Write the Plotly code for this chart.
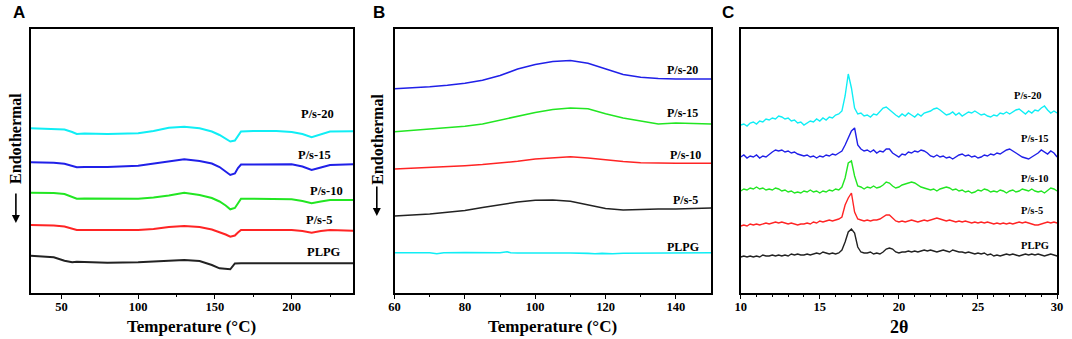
import numpy as np
import plotly.graph_objects as go

# ---------------- Panel A : DSC (Temperature, degC) ----------------
A_temp = [30, 45, 52, 57, 60, 65, 80, 100, 110, 120, 130, 140, 148, 153, 157, 160, 163, 165, 167, 175, 190, 200, 207, 213, 219, 225, 240]
A_ps20 = [164.7, 164.3, 163.5, 161, 159, 159.5, 159, 159.7, 162, 165.3, 166.3, 164.7, 161.5, 158, 154, 151.5, 152.5, 157, 161.5, 162, 162, 161, 159, 155.7, 158.5, 161.5, 161.7]
A_ps15 = [130.7, 130.3, 129.3, 127.5, 125.7, 126, 126, 127.3, 129.5, 132, 133.7, 132, 129.5, 126, 121.3, 118, 119.5, 125, 128.5, 128.7, 128.5, 128.7, 126.5, 123, 125.5, 128, 128.7]
A_ps10 = [100.3, 100, 99, 96.5, 94.3, 94.5, 94.3, 94.3, 95.5, 97.5, 100.3, 98, 95, 91.5, 87.5, 83.7, 85, 90, 94.3, 94.3, 94, 93.7, 92, 89.7, 91.5, 93, 93]
A_ps5 = [68, 67.5, 66.5, 64.5, 63, 63, 63, 63, 64, 66, 67, 66, 63.5, 61, 58.5, 56.3, 57.5, 60.5, 63, 63, 63, 63, 62, 60.3, 62, 63, 62.3]
A_plpg = [37.3, 35.7, 32.3, 30.7, 31.3, 31, 30.3, 30.7, 31.5, 32.5, 33, 32, 28, 24.7, 24.5, 23.7, 29.5, 29.7, 29.7, 29.7, 29.7, 29.7, 29.7, 29.7, 29.7, 29.7, 29.7]
A_label_x = [217, 215, 223, 218, 221]
A_label_y = [179, 138, 102, 73, 41]

# ---------------- Panel B : DSC (Temperature, degC) ----------------
B_temp = [60, 65, 70, 75, 80, 85, 90, 95, 100, 105, 110, 115, 120, 125, 130, 135, 140, 145, 150]
B_ps20 = [204.3, 205.2, 206.3, 207.8, 209.7, 212.8, 217.5, 224, 228.5, 231.5, 232.5, 229.8, 224, 218.5, 215.8, 214.5, 214, 214, 214]
B_ps15 = [161.3, 162.5, 163.8, 165, 166.7, 169, 173, 177, 180.5, 183.5, 185, 184.3, 179.2, 175, 172.3, 169, 170, 169.8, 169]
B_ps10 = [124, 124.7, 125.3, 126.3, 127.3, 128.5, 130, 131.7, 134, 135.5, 136.3, 135, 133, 131.5, 130.2, 129.7, 129.7, 129.7, 129.7]
B_ps5 = [77, 78, 79, 80.8, 82.5, 85.5, 88.5, 91, 92.7, 93, 91.7, 88, 84.5, 83, 83.7, 84, 84, 84.5, 85]
B_plpg_temp = [60, 65, 70, 72, 74, 80, 85, 90, 92, 93, 95, 100, 105, 110, 115, 117, 119, 122, 125, 130, 135, 140, 145, 150]
B_plpg = [40.2, 40, 40.3, 39.3, 40.2, 40.5, 40.3, 40.2, 41.3, 40.2, 40, 40.1, 40, 40, 39.6, 39.2, 39.6, 39.2, 39.8, 40, 40, 40.2, 40.3, 40.3]
B_label_x = [142, 142, 142.7, 142.8, 142]
B_label_y = [223, 180, 138, 93, 46]

# ---------------- Panel C : XRD (2theta, 0.2 deg steps from 10 to 30) ----------------
C_2theta = np.round(np.arange(10.0, 30.0001, 0.2), 1)
C_ps20 = [168, 169, 167, 170, 171, 169, 172, 171, 174, 173,
          175, 174, 177, 176, 174, 175, 172, 173, 170, 171,
          168, 170, 172, 171, 174, 172, 175, 173, 176, 175,
          178, 179, 182, 197, 219, 205, 185, 179, 180, 177,
          178, 176, 179, 178, 182, 185, 186, 183, 180, 178,
          176, 179, 177, 180, 178, 176, 179, 177, 180, 181,
          182, 184, 185, 183, 180, 178, 179, 181, 178, 180,
          177, 179, 181, 180, 182, 180, 178, 179, 177, 176,
          178, 177, 180, 179, 181, 179, 181, 183, 184, 181,
          179, 182, 180, 183, 182, 185, 187, 183, 180, 182,
          180]
C_ps15 = [136, 138, 135, 137, 136, 138, 135, 137, 136, 139,
          141, 143, 142, 143, 141, 142, 140, 141, 139, 138,
          137, 138, 136, 137, 135, 137, 136, 138, 137, 139,
          138, 140, 142, 148, 155, 162, 165, 148, 144, 142,
          143, 141, 143, 140, 142, 141, 144, 144, 140, 138,
          136, 139, 138, 141, 140, 142, 141, 143, 142, 140,
          137, 136, 138, 136, 137, 135, 136, 134, 136, 138,
          139, 137, 138, 136, 137, 135, 136, 138, 137, 139,
          138, 140, 139, 141, 143, 144, 142, 140, 138, 136,
          135, 134, 136, 138, 140, 143, 141, 139, 142, 140,
          136]
C_ps10 = [102, 104, 103, 105, 104, 106, 104, 105, 103, 104,
          103, 105, 104, 102, 103, 101, 102, 100, 101, 100,
          102, 101, 103, 101, 102, 100, 102, 101, 103, 102,
          104, 103, 106, 115, 130, 132, 117, 107, 106, 104,
          106, 105, 107, 105, 106, 108, 111, 110, 107, 105,
          106, 108, 109, 110, 111, 110, 108, 106, 105, 104,
          103, 104, 102, 104, 105, 106, 105, 103, 104, 102,
          103, 101, 102, 100, 101, 103, 102, 104, 103, 101,
          102, 101, 103, 102, 100, 102, 103, 101, 102, 104,
          103, 102, 104, 102, 101, 102, 100, 103, 105, 104,
          102]
C_ps5 = [67, 68, 67, 69, 68, 69, 68, 69, 70, 69,
         70, 71, 70, 71, 70, 69, 70, 69, 68, 69,
         69, 70, 69, 71, 70, 72, 71, 72, 73, 72,
         73, 74, 76, 88, 95, 100, 81, 74, 73, 72,
         73, 72, 73, 73, 74, 76, 78, 78, 75, 72,
         71, 72, 71, 72, 73, 72, 71, 72, 73, 72,
         73, 74, 75, 74, 73, 72, 73, 72, 71, 72,
         71, 72, 71, 70, 71, 70, 71, 70, 71, 70,
         69, 70, 69, 70, 69, 70, 69, 70, 71, 70,
         71, 70, 69, 68, 68, 69, 70, 71, 70, 71,
         70]
C_plpg = [36, 37, 36, 37, 36, 37, 36, 38, 37, 37,
          38, 37, 38, 37, 38, 37, 39, 38, 39, 38,
          38, 39, 38, 39, 40, 39, 41, 40, 39, 40,
          39, 40, 43, 51, 61, 64, 60, 46, 41, 40,
          40, 41, 39, 40, 39, 41, 44, 45, 44, 41,
          40, 41, 41, 42, 41, 42, 41, 42, 43, 42,
          43, 42, 41, 42, 43, 42, 41, 43, 42, 41,
          41, 40, 41, 40, 39, 40, 39, 40, 38, 39,
          37, 38, 37, 38, 39, 38, 39, 38, 37, 38,
          39, 38, 39, 38, 39, 38, 37, 38, 39, 38,
          37]
C_label_x = [28.1, 28.6, 28.6, 28.4, 28.6]
C_label_y = [198, 155, 115, 83, 48]

names = ["P/s-20", "P/s-15", "P/s-10", "P/s-5", "PLPG"]

CYAN, BLUE, GREEN, RED, BLACK = "#10EEF5", "#2020E8", "#22E622", "#FF2424", "#222222"
A_colors = [CYAN, BLUE, GREEN, RED, BLACK]
B_colors = [BLUE, GREEN, RED, BLACK, CYAN]
C_colors = [CYAN, BLUE, GREEN, RED, BLACK]

W, H = 1072, 339
def px_x(p): return p / W
def px_y(p): return 1 - p / H

y_bot, y_top = px_y(293), px_y(29)
dom = {"A": [px_x(25), px_x(351)], "B": [px_x(393), px_x(713)], "C": [px_x(743), px_x(1063)]}

fig = go.Figure()

serif = "Liberation Serif"

def add_panel(xs_list, ys_list, colors, width, xa, ya):
    for xs, ys, c, n in zip(xs_list, ys_list, colors, names):
        fig.add_trace(go.Scatter(x=xs, y=ys, mode="lines", name=n,
                                 line=dict(color=c, width=width),
                                 xaxis=xa, yaxis=ya, showlegend=False, hoverinfo="skip"))

add_panel([A_temp] * 5, [A_ps20, A_ps15, A_ps10, A_ps5, A_plpg], A_colors, 2.0, "x", "y")
add_panel([B_temp] * 4 + [B_plpg_temp], [B_ps20, B_ps15, B_ps10, B_ps5, B_plpg], B_colors, 1.6, "x2", "y2")
add_panel([C_2theta] * 5, [C_ps20, C_ps15, C_ps10, C_ps5, C_plpg], C_colors, 1.4, "x3", "y3")

tickfont = dict(family=serif, size=12.5, color="black", weight="bold")
common_x = dict(showline=True, linewidth=1.6, linecolor="black", mirror=True,
                ticks="outside", ticklen=4, tickwidth=1.3, tickcolor="black",
                showgrid=False, zeroline=False, tickfont=tickfont, ticklabelstandoff=-3,
                minor=dict(ticks="outside", ticklen=2, tickwidth=1.2, tickcolor="black"))
common_y = dict(showline=True, linewidth=1.6, linecolor="black", mirror=True,
                showticklabels=False, ticks="", showgrid=False, zeroline=False,
                range=[0, 264], domain=[y_bot, y_top])

fig.update_layout(
    width=W, height=H, margin=dict(l=0, r=0, t=0, b=0),
    paper_bgcolor="white", plot_bgcolor="white",
    xaxis=dict(common_x, domain=dom["A"], range=[30, 240], tickvals=[50, 100, 150, 200], anchor="y",
               minor=dict(common_x["minor"], tickvals=[75, 125, 175, 225])),
    yaxis=dict(common_y, anchor="x"),
    xaxis2=dict(common_x, domain=dom["B"], range=[60, 150], tickvals=[60, 80, 100, 120, 140], anchor="y2",
                minor=dict(common_x["minor"], tickvals=[70, 90, 110, 130])),
    yaxis2=dict(common_y, anchor="x2"),
    xaxis3=dict(common_x, domain=dom["C"], range=[10, 30], tickvals=[10, 15, 20, 25, 30], anchor="y3"),
    yaxis3=dict(common_y, anchor="x3"),
)

ann = []
C = dict(xanchor="center", yanchor="middle")
lab_font = dict(family=serif, size=12, color="black", weight="bold")
for xs, ys, xr, yr, sz in [(A_label_x, A_label_y, "x", "y", 12.5), (B_label_x, B_label_y, "x2", "y2", 12),
                           (C_label_x, C_label_y, "x3", "y3", 10.5)]:
    for x, y, n in zip(xs, ys, names):
        ann.append(dict(C, x=x, y=y, xref=xr, yref=yr, text=n, showarrow=False,
                        font=dict(lab_font, size=sz)))

title_font = dict(family=serif, size=17, color="black", weight="bold")
ann.append(dict(C, x=(dom["A"][0] + dom["A"][1]) / 2, y=px_y(326), xref="paper", yref="paper",
                text="Temperature (°C)", showarrow=False, font=title_font))
ann.append(dict(C, x=(dom["B"][0] + dom["B"][1]) / 2, y=px_y(326), xref="paper", yref="paper",
                text="Temperature (°C)", showarrow=False, font=title_font))
ann.append(dict(C, x=(dom["C"][0] + dom["C"][1]) / 2, y=px_y(327), xref="paper", yref="paper",
                text="2θ", showarrow=False, font=dict(title_font, size=18)))

endo_font = dict(family=serif, size=16, color="black", weight="bold")
ann.append(dict(C, x=px_x(9), y=px_y(138), xref="paper", yref="paper", text="Endothermal",
                textangle=-90, showarrow=False, font=endo_font))
ann.append(dict(C, x=px_x(375), y=px_y(139), xref="paper", yref="paper", text="Endothermal",
                textangle=-90, showarrow=False, font=endo_font))
# arrows pointing down
ann.append(dict(x=px_x(10), y=px_y(223), xref="paper", yref="paper", text="", showarrow=True,
                ax=0, ay=-31, arrowhead=2, arrowsize=1, arrowwidth=1.6, arrowcolor="black"))
ann.append(dict(x=px_x(375), y=px_y(216), xref="paper", yref="paper", text="", showarrow=True,
                ax=0, ay=-31, arrowhead=2, arrowsize=1, arrowwidth=1.6, arrowcolor="black"))

panel_font = dict(family="Liberation Sans", size=17, color="black", weight="bold")
for lbl, xp in [("A", 13), ("B", 377), ("C", 730)]:
    ann.append(dict(C, x=px_x(xp), y=px_y(12), xref="paper", yref="paper", text=lbl,
                    showarrow=False, font=panel_font))

fig.update_layout(annotations=ann)
fig.write_html("out.html", config={"displayModeBar": False},
               post_script="document.body.style.margin='0';")
